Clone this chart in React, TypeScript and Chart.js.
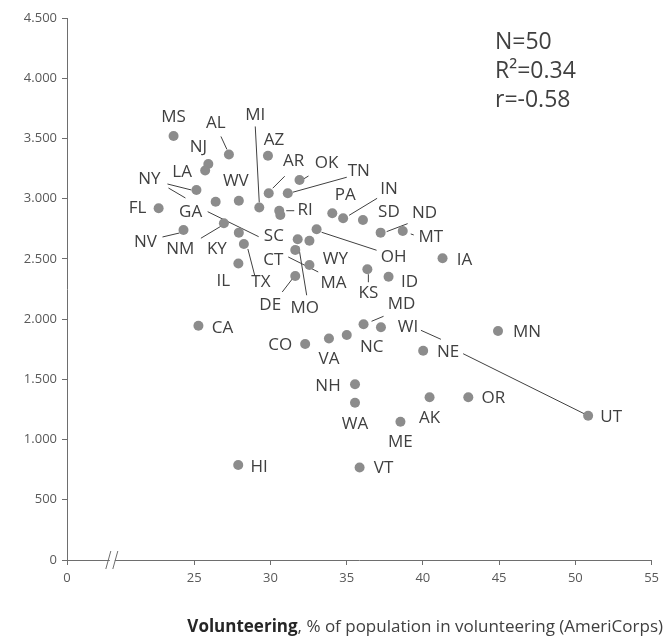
import React, { useEffect, useRef } from "react";
import { Chart, registerables } from "chart.js";

Chart.register(...registerables);

// ---------- data ----------
const states = [
  "MS", "AL", "NJ", "LA", "AZ", "OK", "AR", "TN", "NY", "FL",
  "GA", "WV", "MI", "RI", "NM", "PA", "IN", "SD", "ND", "MT",
  "OH", "NV", "KY", "SC", "TX", "IL", "MO", "WY", "CT", "MA",
  "DE", "IA", "KS", "ID", "CA", "MD", "WI", "NC", "VA", "CO",
  "NE", "MN", "NH", "WA", "AK", "OR", "ME", "UT", "HI", "VT",
];
const volunteering = [
  23.65, 27.28, 25.93, 25.72, 29.84, 31.91, 29.89, 31.14, 25.15, 22.67,
  26.41, 27.93, 29.27, 30.58, 30.65, 34.06, 34.77, 36.07, 37.23, 38.68,
  33.03, 24.3, 26.95, 27.93, 28.26, 27.9, 31.79, 32.56, 31.63, 32.56,
  31.63, 41.29, 36.36, 37.75, 25.28, 36.11, 37.25, 35.01, 33.84, 32.28,
  40.02, 44.93, 35.55, 35.55, 40.44, 42.98, 38.53, 50.84, 27.89, 35.85,
];
const outcome = [
  3520, 3367, 3288, 3234, 3357, 3155, 3045, 3045, 3072, 2920,
  2975, 2983, 2927, 2900, 2865, 2879, 2837, 2823, 2718, 2732,
  2746, 2740, 2796, 2718, 2624, 2462, 2663, 2651, 2574, 2449,
  2358, 2505, 2414, 2352, 1945, 1957, 1932, 1868, 1839, 1793,
  1738, 1901, 1459, 1306, 1351, 1351, 1148, 1198, 789, 768,
];
const xTickValues = [25, 30, 35, 40, 45, 50, 55];
const xBreakTickLabel = "0";
const yTickValues = [0, 500, 1000, 1500, 2000, 2500, 3000, 3500, 4000, 4500];
const statLines = ["N=50", "R\u00B2=0.34", "r=-0.58"];
const titleBold = "Volunteering";
const titleRest = ", % of population in volunteering (AmeriCorps)";

// ---------- layout / style (pixels) ----------
const X_MIN = 16.66;
const X_MAX = 55;
const X_BREAK = 19.6;
const FONT = "'Open Sans', 'Noto Sans', sans-serif";
const TEXT = "#404040";
const AXIS = "#6e6e6e";
const DOT = "#8c8c8c";

// label centre offsets from the point, in px
const labelOffsets: Record<string, [number, number]> = {
  MS: [0, -19], AL: [-13, -31], NJ: [-10, -17], LA: [-23, 2], AZ: [6, -16],
  OK: [27, -17], AR: [25, -32], TN: [71, -22], NY: [-47, -11], FL: [-21, 0],
  GA: [-25, 10], WV: [-3, -20], MI: [-4, -92], RI: [26, -1], NM: [-100, 34],
  PA: [13, -18], IN: [46, -29], SD: [26, -8], ND: [44, -19], MT: [28, 6],
  OH: [77, 28], NV: [-38, 12], KY: [-7, 26], SC: [35, 4], TX: [17, 38],
  IL: [-15, 18], MO: [7, 69], WY: [26, 18], CT: [-22, 10], MA: [24, 18],
  DE: [-25, 29], IA: [22, 2], KS: [1, 24], ID: [21, 5], CA: [24, 2],
  MD: [38, -20], WI: [27, 0], NC: [25, 12], VA: [0, 21], CO: [-25, 1],
  NE: [25, 1], MN: [29, 1], NH: [-27, 2], WA: [0, 21], AK: [0, 21],
  OR: [25, 1], ME: [0, 20], UT: [23, 1], HI: [21, 2], VT: [24, 1],
};

// leader segments: [state, x1, y1, x2, y2] offsets from the point, in px
const leaders: [string, number, number, number, number][] = [
  ["AL", -8, -18, -2, -5],
  ["MI", -4, -81, 0, -5],
  ["NY", -29, -6, -5, 0],
  ["NY", -28, -2, -11, 8],
  ["AR", 16, -17, 4, -5],
  ["OK", 9, -4, 4, -1],
  ["TN", 59, -16, 5, -1],
  ["GA", -8, 10, 43, 35],
  ["RI", 7, 0, 15, 0],
  ["IN", 34, -20, 6, -3],
  ["ND", 27, -9, 6, -1],
  ["MT", 8, 3, 11, 4],
  ["NV", -21, 7, -4, 3],
  ["KY", -23, 15, -3, 3],
  ["CT", -7, 7, 23, 22],
  ["MO", 1, 7, 9, 56],
  ["OH", 60, 21, 5, 3],
  ["TX", 4, 5, 11, 32],
  ["DE", -13, 16, -3, 3],
  ["KS", 1, 5, 1, 13],
  ["MD", 8, -3, 20, -8],
  ["WI", 40, 3, 60, 12],
  ["UT", -125, -62, -4, -2],
];

function fmtThousands(v: number): string {
  if (v >= 1000) {
    const th = Math.floor(v / 1000);
    const rest = String(v % 1000).padStart(3, "0");
    return `${th}.${rest}`;
  }
  return String(v);
}

const overlayPlugin = {
  id: "overlay",
  beforeDatasetsDraw(chart: any) {
    const ctx = chart.ctx;
    const meta = chart.getDatasetMeta(0);
    ctx.save();
    ctx.strokeStyle = TEXT;
    ctx.lineWidth = 1;
    leaders.forEach(([s, x1, y1, x2, y2]) => {
      const i = states.indexOf(s);
      const el = meta.data[i];
      if (!el) return;
      ctx.beginPath();
      ctx.moveTo(el.x + x1, el.y + y1);
      ctx.lineTo(el.x + x2, el.y + y2);
      ctx.stroke();
    });
    ctx.restore();
  },
  afterDatasetsDraw(chart: any) {
    const ctx = chart.ctx;
    const meta = chart.getDatasetMeta(0);
    ctx.save();
    ctx.fillStyle = TEXT;
    ctx.font = `17px ${FONT}`;
    ctx.textAlign = "center";
    ctx.textBaseline = "middle";
    states.forEach((s, i) => {
      const el = meta.data[i];
      const off = labelOffsets[s] || [20, 0];
      ctx.fillText(s, el.x + off[0], el.y + off[1]);
    });
    ctx.restore();
  },
  afterDraw(chart: any) {
    const ctx = chart.ctx;
    const xs = chart.scales.x;
    const area = chart.chartArea;
    // axis break mark
    const bx = xs.getPixelForValue(X_BREAK);
    const by = area.bottom;
    ctx.save();
    ctx.fillStyle = "#ffffff";
    ctx.fillRect(bx - 2, by - 2, 5, 4);
    ctx.strokeStyle = AXIS;
    ctx.lineWidth = 1;
    ctx.beginPath();
    ctx.moveTo(bx - 6, by + 9);
    ctx.lineTo(bx - 1, by - 9);
    ctx.moveTo(bx + 1, by + 9);
    ctx.lineTo(bx + 6, by - 9);
    ctx.stroke();

    // stats box
    ctx.fillStyle = TEXT;
    ctx.font = `23px ${FONT}`;
    ctx.textAlign = "left";
    ctx.textBaseline = "alphabetic";
    statLines.forEach((t, i) => {
      ctx.fillText(t, 495, 49 + i * 29);
    });

    // x-axis title
    ctx.font = `bold 17px ${FONT}`;
    const wb = ctx.measureText(titleBold).width;
    ctx.font = `17px ${FONT}`;
    const wr = ctx.measureText(titleRest).width;
    const right = 663;
    const startX = right - wb - wr;
    ctx.fillStyle = "#262626";
    ctx.font = `bold 17px ${FONT}`;
    ctx.fillText(titleBold, startX, 632);
    ctx.fillStyle = TEXT;
    ctx.font = `17px ${FONT}`;
    ctx.fillText(titleRest, startX + wb, 632);
    ctx.restore();
  },
};

export default function App() {
  const ref = useRef<HTMLCanvasElement | null>(null);

  useEffect(() => {
    if (!ref.current) return;
    const points = volunteering.map((x, i) => ({ x, y: outcome[i] }));
    const chart = new Chart(ref.current, {
      type: "scatter",
      data: {
        datasets: [
          {
            data: points,
            backgroundColor: DOT,
            borderColor: DOT,
            pointRadius: 5,
            pointHoverRadius: 5,
            borderWidth: 0,
          },
        ],
      },
      options: {
        responsive: false,
        animation: false,
        devicePixelRatio: 1,
        layout: { padding: { left: 0, right: 9, top: 18, bottom: 0 } },
        plugins: {
          legend: { display: false },
          tooltip: { enabled: false },
        },
        scales: {
          x: {
            type: "linear",
            min: X_MIN,
            max: X_MAX,
            afterBuildTicks: (scale: any) => {
              scale.ticks = [{ value: X_MIN }, ...xTickValues.map((v) => ({ value: v }))];
            },
            afterFit: (scale: any) => {
              scale.height = 80;
            },
            border: { display: true, color: AXIS, width: 1 },
            grid: {
              drawOnChartArea: false,
              drawTicks: true,
              tickLength: 5,
              color: AXIS,
            },
            ticks: {
              autoSkip: false,
              maxRotation: 0,
              padding: 5,
              color: "#595959",
              font: { family: FONT, size: 13 },
              callback: (v: any) => (v === X_MIN ? xBreakTickLabel : String(v)),
            },
          },
          y: {
            type: "linear",
            min: 0,
            max: 4500,
            afterBuildTicks: (scale: any) => {
              scale.ticks = yTickValues.map((v) => ({ value: v }));
            },
            afterFit: (scale: any) => {
              scale.width = 67;
            },
            border: { display: true, color: AXIS, width: 1 },
            grid: {
              drawOnChartArea: false,
              drawTicks: true,
              tickLength: 5,
              color: AXIS,
            },
            ticks: {
              autoSkip: false,
              padding: 5,
              color: "#595959",
              font: { family: FONT, size: 13 },
              callback: (v: any) => fmtThousands(Number(v)),
            },
          },
        },
      },
      plugins: [overlayPlugin],
    });
    return () => chart.destroy();
  }, []);

  return (
    <div style={{ position: "fixed", left: 0, top: 0, width: 664, height: 640, background: "#fff" }}>
      <canvas ref={ref} width={664} height={640} style={{ display: "block" }} />
    </div>
  );
}
